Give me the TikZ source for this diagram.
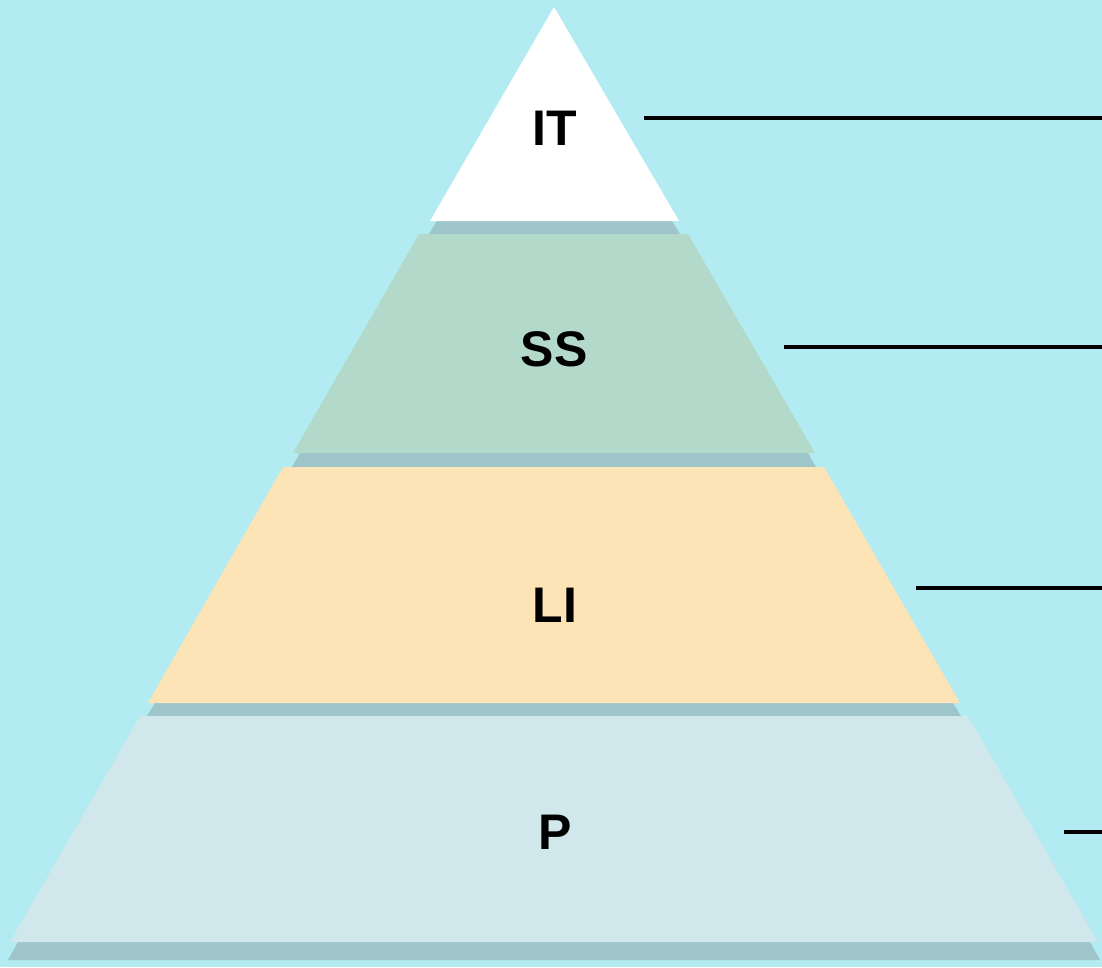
\documentclass[tikz,border=0pt]{standalone}
\usepackage{fontspec}
\setmainfont{Liberation Sans}
\definecolor{bgc}{HTML}{B2EBF2}
\definecolor{shadowc}{HTML}{9EC5CA}
\definecolor{itc}{HTML}{FFFFFF}
\definecolor{ssc}{HTML}{B2D9CA}
\definecolor{lic}{HTML}{FCE4B6}
\definecolor{pc}{HTML}{D0E7EC}
\begin{document}
\begin{tikzpicture}[x=1pt,y=-1pt,
  layerlabel/.style={font=\fontsize{50}{60}\selectfont\bfseries, text=black, inner sep=0pt, anchor=center},
  strip/.style={fill=shadowc, draw=none},
  leader/.style={draw=black, line width=4.6pt}]
\fill[bgc] (0,0) rectangle (1102,967);
\useasboundingbox (0,0) rectangle (1102,967);
% shadow strips
\path[strip] (437,221) -- (672,221) -- (680,234) -- (429,234) -- cycle;
\path[strip] (300,453) -- (808,453) -- (816,467) -- (292,467) -- cycle;
\path[strip] (155,703) -- (953,703) -- (961,716) -- (147,716) -- cycle;
\path[strip] (18,942) -- (1090,942) -- (1100,960) -- (8,960) -- cycle;
% layers
\fill[itc] (554,7) -- (679,221) -- (430,221) -- cycle;
\fill[ssc] (419,234) -- (688,234) -- (815,453) -- (293,453) -- cycle;
\fill[lic] (283,467) -- (824,467) -- (960,703) -- (148,703) -- cycle;
\fill[pc] (140,716) -- (968,716) -- (1098,942) -- (10,942) -- cycle;
% labels
\node[layerlabel] (it) at (555,128) {IT};
\node[layerlabel] (ss) at (554,349) {SS};
\node[layerlabel] (li) at (555,605) {LI};
\node[layerlabel] (p) at (555,832) {P};
% leader lines
\coordinate (l1a) at (644,118); \coordinate (l1b) at (1102,118);
\coordinate (l2a) at (784,347); \coordinate (l2b) at (1102,347);
\coordinate (l3a) at (916,588); \coordinate (l3b) at (1102,588);
\coordinate (l4a) at (1064,832); \coordinate (l4b) at (1102,832);
\draw[leader] (l1a) -- (l1b);
\draw[leader] (l2a) -- (l2b);
\draw[leader] (l3a) -- (l3b);
\draw[leader] (l4a) -- (l4b);
\end{tikzpicture}
\end{document}
